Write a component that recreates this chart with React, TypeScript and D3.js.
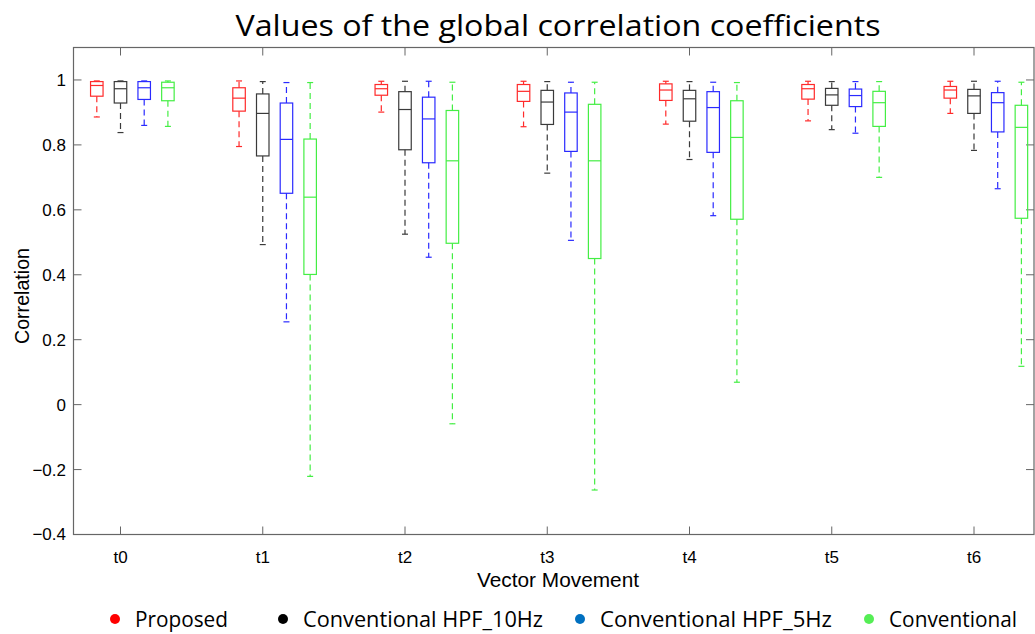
import * as React from "react";
import * as d3 from "d3";

// categories along the x axis
const movements = ["t0", "t1", "t2", "t3", "t4", "t5", "t6"];

// per movement: [lower whisker, q1, median, q3, upper whisker]
const proposed = [
  [0.886, 0.95, 0.983, 0.995, 0.997],
  [0.795, 0.904, 0.944, 0.976, 0.997],
  [0.901, 0.953, 0.973, 0.986, 0.996],
  [0.856, 0.934, 0.965, 0.986, 0.996],
  [0.864, 0.937, 0.969, 0.988, 0.996],
  [0.874, 0.941, 0.973, 0.986, 0.996],
  [0.897, 0.944, 0.969, 0.98, 0.996],
];
const hpf10 = [
  [0.838, 0.929, 0.973, 0.995, 0.997],
  [0.493, 0.766, 0.897, 0.957, 0.995],
  [0.525, 0.785, 0.909, 0.964, 0.996],
  [0.713, 0.863, 0.932, 0.968, 0.995],
  [0.755, 0.873, 0.942, 0.968, 0.995],
  [0.847, 0.922, 0.954, 0.974, 0.995],
  [0.783, 0.897, 0.951, 0.971, 0.996],
];
const hpf5 = [
  [0.86, 0.94, 0.976, 0.995, 0.997],
  [0.255, 0.651, 0.817, 0.929, 0.992],
  [0.454, 0.745, 0.88, 0.947, 0.996],
  [0.506, 0.78, 0.901, 0.96, 0.993],
  [0.582, 0.777, 0.915, 0.964, 0.993],
  [0.836, 0.918, 0.952, 0.972, 0.995],
  [0.665, 0.84, 0.93, 0.961, 0.996],
];
const conventional = [
  [0.857, 0.936, 0.976, 0.993, 0.997],
  [-0.221, 0.401, 0.639, 0.818, 0.992],
  [-0.059, 0.497, 0.751, 0.906, 0.993],
  [-0.263, 0.45, 0.751, 0.925, 0.993],
  [0.069, 0.571, 0.823, 0.936, 0.992],
  [0.7, 0.857, 0.93, 0.965, 0.995],
  [0.118, 0.574, 0.854, 0.922, 0.993],
];

const seriesNames = ["Proposed", "Conventional HPF_10Hz", "Conventional HPF_5Hz", "Conventional"];
const seriesData = [proposed, hpf10, hpf5, conventional];
const boxColors = ["#ff2a2a", "#3a3a3a", "#2a2aff", "#44ee44"];
const legendColors = ["#ff0000", "#000000", "#0070c0", "#55ee55"];
const yTicks = [-0.4, -0.2, 0, 0.2, 0.4, 0.6, 0.8, 1];

const W = 1035;
const H = 634;
const left = 73.5;
const right = 1034;
const top = 47.5;
const bottom = 534.5;

export default function App() {
  const y = d3.scaleLinear().domain([-0.4, 1.1]).range([bottom, top]);
  const x = d3.scalePoint<string>().domain(movements).range([120.5, 974]);
  const offset = d3.scaleLinear().domain([0, 3]).range([-23.7, 47.4]);
  const boxW = 12.5;
  const capW = 6;

  const legendX = [115, 283, 580, 869];
  const legendLen = [93, 240, 232, 128];

  return (
    <svg width={W} height={H} style={{ position: "absolute", left: 0, top: 0, background: "#fff" }}>
      <text
        x={558}
        y={36}
        textAnchor="middle"
        fontFamily="Open Sans, Noto Sans, sans-serif"
        fontSize={30}
        textLength={645}
        lengthAdjust="spacingAndGlyphs"
        fill="#000"
      >
        Values of the global correlation coefficients
      </text>

      <rect x={left} y={top} width={right - left} height={bottom - top} fill="none" stroke="#666" strokeWidth={1.2} />

      {yTicks.map((t) => (
        <g key={"y" + t}>
          <line x1={left} x2={left + 8} y1={y(t)} y2={y(t)} stroke="#666" />
          <line x1={right - 8} x2={right} y1={y(t)} y2={y(t)} stroke="#666" />
          <text
            x={66}
            y={y(t)}
            dy="0.35em"
            textAnchor="end"
            fontFamily="Liberation Sans, Arial, sans-serif"
            fontSize={17}
            fill="#000"
          >
            {d3.format("~g")(t)}
          </text>
        </g>
      ))}

      {movements.map((m) => (
        <g key={m}>
          <line x1={x(m)} x2={x(m)} y1={bottom} y2={bottom - 8} stroke="#666" />
          <line x1={x(m)} x2={x(m)} y1={top} y2={top + 8} stroke="#666" />
          <text
            x={x(m)}
            y={563}
            textAnchor="middle"
            fontFamily="Liberation Sans, Arial, sans-serif"
            fontSize={17}
            fill="#000"
          >
            {m}
          </text>
        </g>
      ))}

      <text
        x={558}
        y={587}
        textAnchor="middle"
        fontFamily="Liberation Sans, Arial, sans-serif"
        fontSize={20}
        textLength={162}
        lengthAdjust="spacingAndGlyphs"
        fill="#000"
      >
        Vector Movement
      </text>
      <text
        transform={`translate(29, 296) rotate(-90)`}
        textAnchor="middle"
        fontFamily="Liberation Sans, Arial, sans-serif"
        fontSize={20}
        textLength={96}
        lengthAdjust="spacingAndGlyphs"
        fill="#000"
      >
        Correlation
      </text>

      {seriesData.map((series, si) =>
        series.map((d, ci) => {
          const cx = (x(movements[ci]) ?? 0) + offset(si);
          const [lo, q1, med, q3, hi] = d;
          const c = boxColors[si];
          return (
            <g key={si + "-" + ci} stroke={c} strokeWidth={1.2} fill="none">
              <line x1={cx} x2={cx} y1={y(q3)} y2={y(hi)} strokeDasharray="6,4" />
              <line x1={cx} x2={cx} y1={y(q1)} y2={y(lo)} strokeDasharray="6,4" />
              <line x1={cx - capW / 2} x2={cx + capW / 2} y1={y(hi)} y2={y(hi)} />
              <line x1={cx - capW / 2} x2={cx + capW / 2} y1={y(lo)} y2={y(lo)} />
              <rect x={cx - boxW / 2} y={y(q3)} width={boxW} height={y(q1) - y(q3)} />
              <line x1={cx - boxW / 2} x2={cx + boxW / 2} y1={y(med)} y2={y(med)} />
            </g>
          );
        })
      )}

      {seriesNames.map((n, i) => (
        <g key={n}>
          <circle cx={legendX[i]} cy={619} r={5} fill={legendColors[i]} />
          <text
            x={legendX[i] + 20}
            y={627}
            fontFamily="Open Sans, Noto Sans, sans-serif"
            fontSize={21}
            textLength={legendLen[i]}
            lengthAdjust="spacingAndGlyphs"
            fill="#000"
          >
            {n}
          </text>
        </g>
      ))}
    </svg>
  );
}
